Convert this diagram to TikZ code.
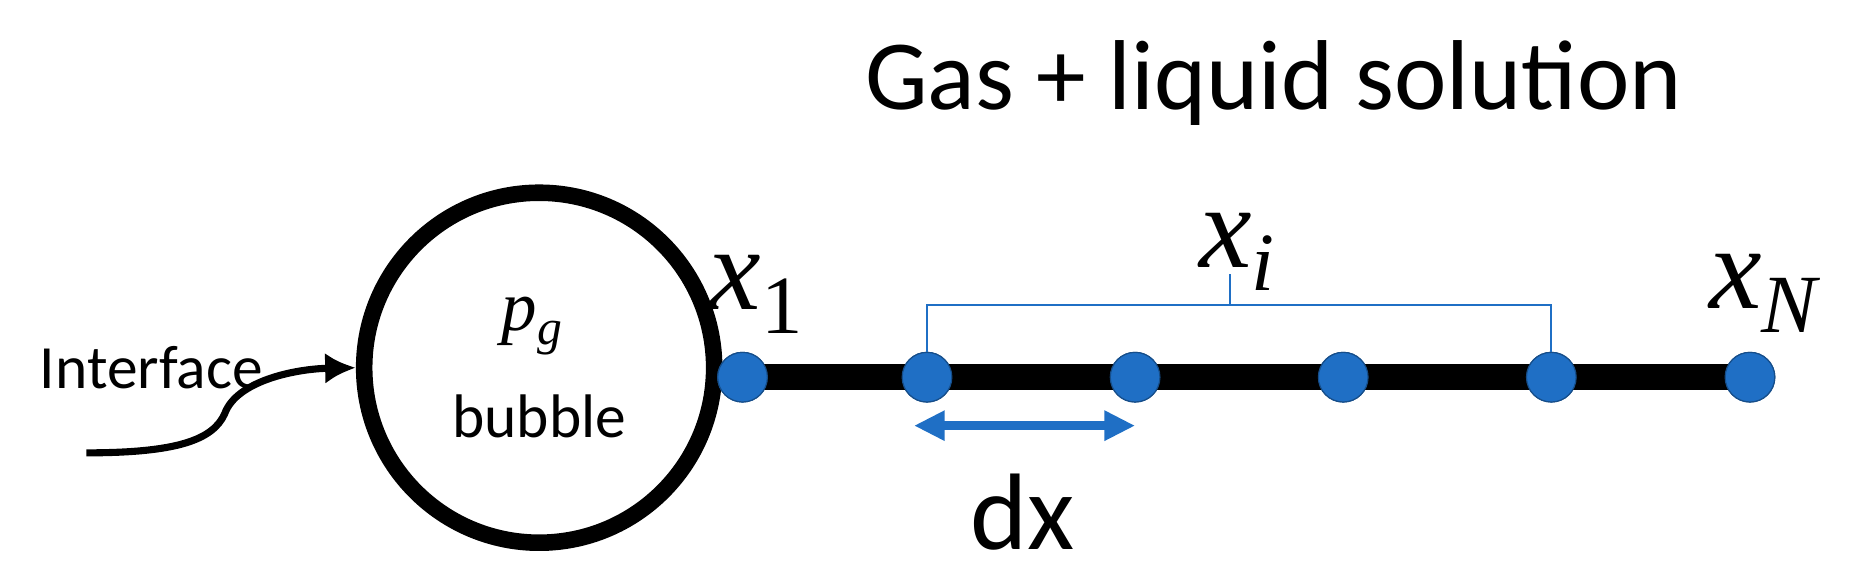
\documentclass[tikz,border=0pt]{standalone}
\usepackage{fontspec}
\setmainfont{Carlito}
\newfontfamily\mathserif{Liberation Serif}
\usetikzlibrary{arrows.meta}
\definecolor{dotblue}{HTML}{1F6FC5}
\begin{document}
\begin{tikzpicture}[x=0.5pt,y=-0.5pt,
  dot/.style={circle,fill=dotblue,draw=dotblue!70!black,line width=0.5pt,minimum size=21pt,inner sep=0pt},
  lbl/.style={inner sep=0pt},
  mlbl/.style={inner sep=0pt,anchor=base west,font=\fontsize{50}{56}\selectfont\mathserif}]
\useasboundingbox (0,0) rectangle (1568,485.5);
\node[lbl,anchor=base east,font=\fontsize{42}{46}\selectfont] (title) at (1423,93) {Gas + liquid solution};
\node[circle,draw,line width=7pt,minimum size=148pt,inner sep=0pt] (bub) at (456,311) {};
\node[lbl,font=\fontsize{30}{34}\selectfont\mathserif] (pg) at (450,276) {\itshape p\raisebox{-0.2em}{\fontsize{21}{21}\selectfont g}};
\node[lbl,font=\fontsize{26}{30}\selectfont] (bt) at (456,352) {bubble};
\node[lbl,font=\fontsize{26}{30}\selectfont] (int) at (128,311) {Interface};
\coordinate (cs) at (73,383);
\draw[line width=3pt,-{Latex[length=13pt,width=13pt]}] (cs) .. controls (150,383) and (180,372) .. (190,350) .. controls (200,322) and (250,312) .. (bub.west);
\node[dot] (d1) at (628,319) {};
\node[dot] (d2) at (784,319) {};
\node[dot] (d3) at (960,319) {};
\node[dot] (d4) at (1136,319) {};
\node[dot] (d5) at (1312,319) {};
\node[dot] (d6) at (1480,319) {};
\draw[line width=11pt] (d1.center) -- (d6.center);
\foreach \n in {d1,d2,d3,d4,d5,d6} \node[dot] at (\n) {};
\node[mlbl] (x1) at (599,262) {\itshape x\raisebox{-0.2em}{\fontsize{35}{35}\selectfont\upshape 1}};
\node[mlbl] (xN) at (1445,261) {\itshape x\raisebox{-0.2em}{\fontsize{35}{35}\selectfont N}};
\node[mlbl] (xi) at (1014,226) {\itshape x\raisebox{-0.2em}{\fontsize{35}{35}\selectfont i}};
\coordinate (bl) at (784,258); \coordinate (br) at (1312,258); \coordinate (bm) at (1040,258);
\draw[dotblue,line width=0.8pt] (d2.north) -- (bl) -- (br) -- (d5.north);
\draw[dotblue,line width=0.8pt] (bm) -- (1040,232);
\coordinate (a1) at (773,360); \coordinate (a2) at (960,360);
\draw[dotblue,line width=4pt,{Triangle[length=13pt,width=12pt]}-{Triangle[length=13pt,width=12pt]}] (a1) -- (a2);
\node[lbl,anchor=base,font=\fontsize{46}{50}\selectfont] (dx) at (865,465) {dx};
\end{tikzpicture}
\end{document}
